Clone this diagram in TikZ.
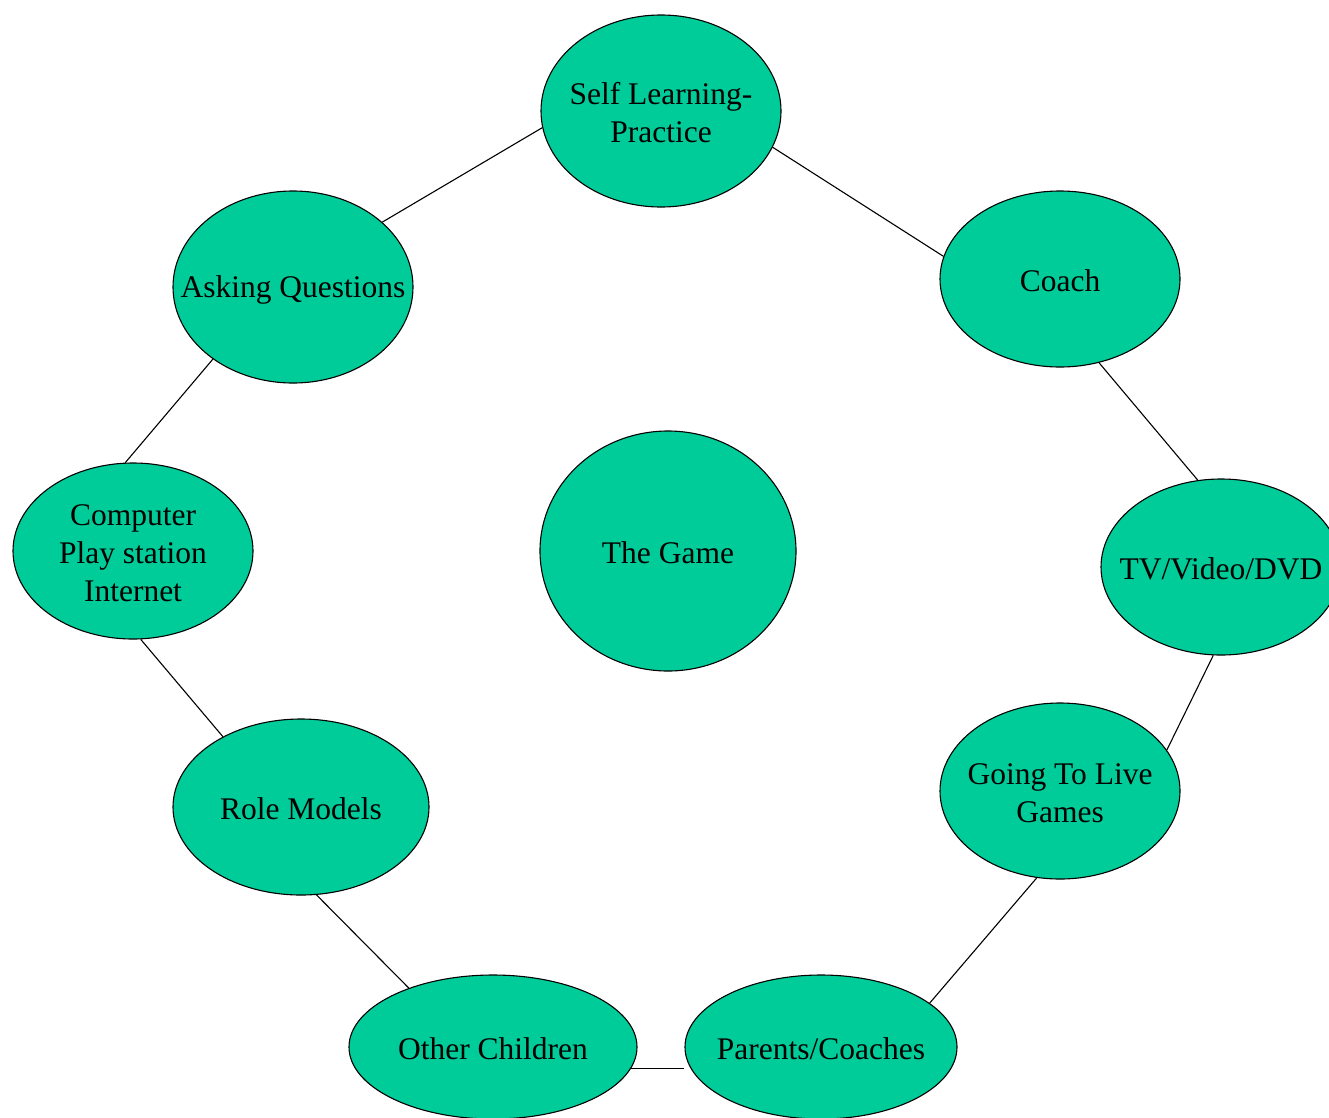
\documentclass[tikz,border=0pt]{standalone}
\usepackage{fontspec}
\setmainfont{Liberation Serif}
\usetikzlibrary{shapes.geometric}
\definecolor{blobgreen}{RGB}{0,204,153}
\begin{document}
\begin{tikzpicture}[x=1pt,y=-1pt,
  blob/.style={ellipse, draw=black, line width=1.1pt, fill=blobgreen, inner sep=0pt},
  lbl/.style={font=\fontsize{31.5}{38}\selectfont, align=center},
  conn/.style={draw=black, line width=1.1pt}]
\useasboundingbox (0,0) rectangle (1329,1117);
\node[blob, minimum width=240, minimum height=192] (sl) at (661,111) {};
\node[lbl] (slt) at (661,113) {Self Learning-\\Practice};
\node[blob, minimum width=240, minimum height=192] (aq) at (293,287) {};
\node[lbl] (aqt) at (293,290) {Asking Questions};
\node[blob, minimum width=240, minimum height=176] (co) at (1060,279) {};
\node[lbl] (cot) at (1060,281) {Coach};
\node[blob, minimum width=240, minimum height=176] (cp) at (133,551) {};
\node[lbl] (cpt) at (133,553) {Computer\\Play station\\Internet};
\node[blob, minimum width=256, minimum height=240] (tg) at (668,551) {};
\node[lbl] (tgt) at (668,553) {The Game};
\node[blob, minimum width=240, minimum height=176] (tv) at (1221,567) {};
\node[lbl] (tvt) at (1221,569) {TV/Video/DVD};
\node[blob, minimum width=240, minimum height=176] (gl) at (1060,791) {};
\node[lbl] (glt) at (1060,793) {Going To Live\\Games};
\node[blob, minimum width=256, minimum height=176] (rm) at (301,807) {};
\node[lbl] (rmt) at (301,809) {Role Models};
\node[blob, minimum width=288, minimum height=144] (oc) at (493,1047) {};
\node[lbl] (oct) at (493,1049) {Other Children};
\node[blob, minimum width=272, minimum height=144] (pc) at (821,1047) {};
\node[lbl] (pct) at (821,1049) {Parents/Coaches};

\path[conn] (sl.188) -- (aq.36);
\path[conn] (sl.-18) -- (co.169);
\path[conn] (aq.222) -- (cp.95);
\path[conn] (co.-65) -- (tv.105);
\path[conn] (tv.-95) -- (gl.21);
\path[conn] (gl.255) -- (pc.22);
\path[conn] (cp.-85) -- (rm.138);
\path[conn] (rm.-80) -- (oc.145);
\path[conn] (oc.-9.5) -- (oc.-9.5 -| pc.west);
\end{tikzpicture}
\end{document}
